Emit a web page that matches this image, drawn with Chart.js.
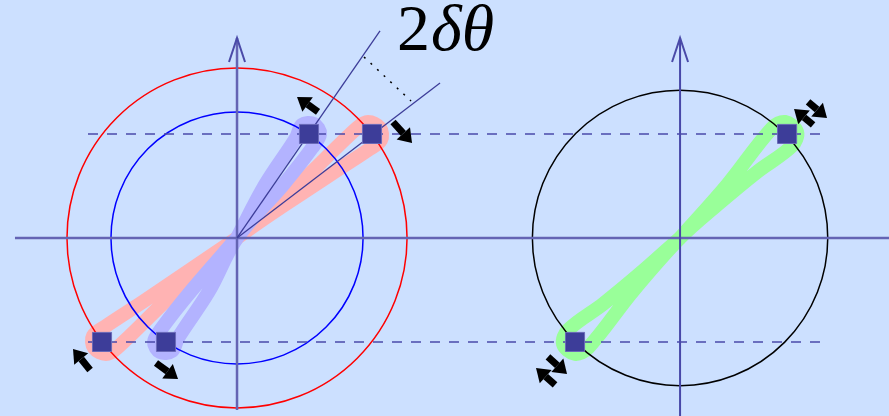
<!DOCTYPE html>
<html>
<head>
<meta charset="utf-8">
<script src="https://cdn.jsdelivr.net/npm/chart.js@4.4.1/dist/chart.umd.min.js"></script>
<style>
  html, body { margin: 0; padding: 0; background: #cce0ff; }
  canvas { display: block; }
</style>
</head>
<body>
<canvas id="diagram" width="889" height="416"></canvas>
<script>
// one unit = distance from an origin to the dashed lines
const rightOrigin = 4.26;

// figure-eight loops (upper lobe, back through origin, lower lobe)
const redLoop = [
  [0, 0], [0.606, 0.529], [1.154, 1.058], [1.26, 1.115], [1.375, 1.058], [1.385, 0.942], [1.26, 0.846], [0.894, 0.606],
  [0, 0], [-0.606, -0.529], [-1.154, -1.058], [-1.26, -1.115], [-1.375, -1.058], [-1.385, -0.942], [-1.26, -0.846], [-0.894, -0.606],
  [0, 0]
];
const blueLoop = [
  [0, 0], [0.269, 0.51], [0.567, 0.962], [0.625, 1.087], [0.74, 1.096], [0.798, 1.0], [0.721, 0.865], [0.442, 0.51],
  [0, 0], [-0.269, -0.51], [-0.567, -0.962], [-0.625, -1.087], [-0.74, -1.096], [-0.798, -1.0], [-0.721, -0.865], [-0.442, -0.51],
  [0, 0]
];
const greenLoop = [
  [4.26, 0], [4.712, 0.51], [5.145, 1.058], [5.27, 1.115], [5.385, 1.019], [5.337, 0.885], [5.0, 0.635], [4.616, 0.317],
  [4.26, 0], [3.808, -0.51], [3.375, -1.058], [3.25, -1.115], [3.135, -1.019], [3.183, -0.885], [3.52, -0.635], [3.904, -0.317],
  [4.26, 0]
];

// circles: [centerX, centerY, radius]
const circles = [
  [0, 0, 1.635],
  [0, 0, 1.212],
  [4.26, 0, 1.42]
];

const markers = [[1.298, 1], [0.692, 1], [-1.298, -1], [-0.683, -1], [5.289, 1], [3.25, -1]];

const xAxisLine = [[-2.135, 0], [6.27, 0]];
const leftYAxis = [[0, -1.654], [0, 1.923]];
const leftYArrow = [[-0.077, 1.692], [0, 1.923], [0.077, 1.692]];
const rightYAxis = [[4.26, -1.72], [4.26, 1.923]];
const rightYArrow = [[4.183, 1.692], [4.26, 1.923], [4.337, 1.692]];
const dashedTop = [[-1.433, 1], [5.692, 1]];
const dashedBottom = [[-1.433, -1], [5.692, -1]];
const rayBlue = [[0, 0], [1.375, 1.99]];
const rayRed = [[0, 0], [1.952, 1.49]];
const angleGap = [[1.221, 1.74], [1.673, 1.317]];

// arrows: [tailX, tailY, tipX, tipY]
const arrows = [
  [1.50, 1.115, 1.683, 0.913],
  [0.779, 1.212, 0.577, 1.356],
  [-1.413, -1.269, -1.577, -1.067],
  [-0.779, -1.202, -0.567, -1.356],
  [2.99, -1.144, 3.173, -1.308],
  [3.058, -1.413, 2.875, -1.25],
  [5.539, 1.087, 5.356, 1.24],
  [5.491, 1.308, 5.673, 1.154]
];

const pts = arr => arr.map(([x, y]) => ({ x, y }));

function path(arr, color, width, extra) {
  return Object.assign({
    data: pts(arr),
    showLine: true,
    pointRadius: 0,
    borderColor: color,
    borderWidth: width,
    backgroundColor: 'transparent',
    fill: false
  }, extra || {});
}

const loopStyle = { tension: 0.35, borderCapStyle: 'round', borderJoinStyle: 'round' };

const circleSet = (c, color) => ({
  data: [{ x: c[0], y: c[1], r: c[2] }],
  showLine: false,
  pointStyle: 'circle',
  pointRadius: ctx => {
    const sx = ctx.chart.scales.x;
    return sx.getPixelForValue(ctx.raw.r) - sx.getPixelForValue(0);
  },
  pointBackgroundColor: 'transparent',
  pointBorderColor: color,
  pointBorderWidth: 1.5
});

// bottom to top
const datasets = [
  path(redLoop, '#ffb3b3', 14, loopStyle),
  path(blueLoop, '#b3b3ff', 14, loopStyle),
  path(greenLoop, '#99ff99', 14, loopStyle),
  circleSet(circles[0], '#ff0000'),
  circleSet(circles[1], '#0000ff'),
  circleSet(circles[2], '#000000'),
  path(xAxisLine, '#6464b4', 2.5),
  path(leftYAxis, '#6464b4', 2.5),
  path(leftYArrow, '#4a4aa8', 2),
  path(rightYAxis, '#4848a8', 2),
  path(rightYArrow, '#4a4aa8', 2),
  path(dashedTop, '#4a4aaa', 1.5, { borderDash: [10, 9] }),
  path(dashedBottom, '#4a4aaa', 1.5, { borderDash: [10, 9] }),
  path(rayBlue, '#3d3d99', 1.3),
  path(rayRed, '#3d3d99', 1.3),
  path(angleGap, '#000000', 1.5, { borderDash: [2, 7] }),
  {
    data: pts(markers),
    showLine: false,
    pointStyle: 'rect',
    pointRadius: 13.5,
    pointBackgroundColor: '#3d3d99',
    pointBorderColor: '#6a6ab8',
    pointBorderWidth: 1
  }
];
datasets.forEach((d, i) => { d.order = datasets.length - i; });

const diagramExtras = {
  id: 'diagramExtras',
  beforeDraw(chart) {
    const ctx = chart.ctx;
    ctx.save();
    ctx.fillStyle = '#cce0ff';
    ctx.fillRect(0, 0, chart.width, chart.height);
    ctx.restore();
  },
  afterDatasetsDraw(chart) {
    const { ctx, scales: { x, y } } = chart;
    ctx.save();
    ctx.fillStyle = '#000';
    ctx.strokeStyle = '#000';
    arrows.forEach(([x1, y1, x2, y2]) => {
      const ax = x.getPixelForValue(x1), ay = y.getPixelForValue(y1);
      const bx = x.getPixelForValue(x2), by = y.getPixelForValue(y2);
      const len = Math.hypot(bx - ax, by - ay);
      const ux = (bx - ax) / len, uy = (by - ay) / len;
      const head = 13, half = 9;
      ctx.lineWidth = 7;
      ctx.lineCap = 'butt';
      ctx.beginPath();
      ctx.moveTo(ax, ay);
      ctx.lineTo(bx - ux * head, by - uy * head);
      ctx.stroke();
      ctx.beginPath();
      ctx.moveTo(bx, by);
      ctx.lineTo(bx - ux * head - uy * half, by - uy * head + ux * half);
      ctx.lineTo(bx - ux * head + uy * half, by - uy * head - ux * half);
      ctx.closePath();
      ctx.fill();
    });
    // angle label
    const lx = x.getPixelForValue(1.538), ly = y.getPixelForValue(1.808);
    ctx.textBaseline = 'alphabetic';
    ctx.textAlign = 'left';
    ctx.font = '66px "Liberation Serif"';
    ctx.fillText('2', lx, ly);
    const w = ctx.measureText('2').width;
    ctx.font = 'italic 66px "Liberation Serif"';
    ctx.fillText('δθ', lx + w + 1, ly);
    ctx.restore();
  }
};

new Chart(document.getElementById('diagram'), {
  type: 'scatter',
  data: { datasets },
  options: {
    responsive: false,
    animation: false,
    layout: { padding: 0, autoPadding: false },
    plugins: { legend: { display: false }, tooltip: { enabled: false } },
    events: [],
    scales: {
      x: { type: 'linear', display: false, min: -2.279, max: 6.269 },
      y: { type: 'linear', display: false, min: -1.712, max: 2.288 }
    }
  },
  plugins: [diagramExtras]
});
</script>
</body>
</html>
